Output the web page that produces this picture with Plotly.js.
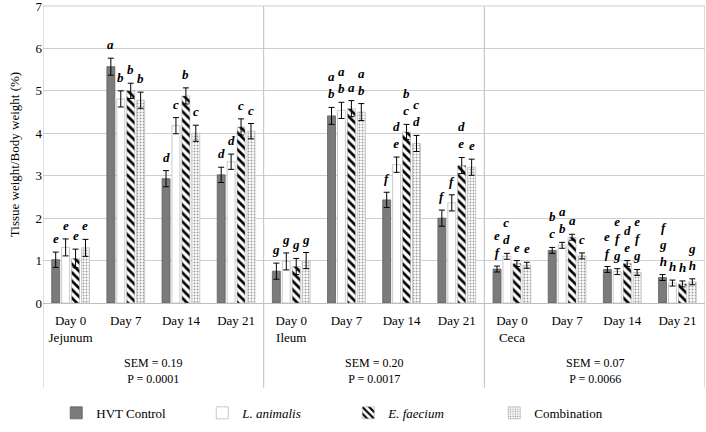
<!DOCTYPE html>
<html>
<head>
<meta charset="utf-8">
<script src="https://cdn.plot.ly/plotly-3.0.1.min.js"></script>
<style>html,body{margin:0;padding:0;background:#fff;}#chart{width:706px;height:432px;}</style>
</head>
<body>
<div id="chart"></div>
<script>
// ---- data ----
const days = ['Day 0', 'Day 7', 'Day 14', 'Day 21'];
const segments = ['Jejunum', 'Ileum', 'Ceca'];
const semValues = ['0.19', '0.20', '0.07'];
const pValues = ['0.0001', '0.0017', '0.0066'];
const seriesNames = ['HVT Control', '<i>L. animalis</i>', '<i>E. faecium</i>', 'Combination'];

const hvtControl = [1.02, 5.57, 2.93, 3.02, 0.75, 4.41, 2.43, 2.00, 0.80, 1.24, 0.79, 0.60];
const hvtControlErr = [0.18, 0.20, 0.19, 0.18, 0.19, 0.20, 0.18, 0.19, 0.07, 0.07, 0.07, 0.07];
const lAnimalis = [1.31, 4.81, 4.18, 3.33, 0.98, 4.54, 3.26, 2.36, 1.10, 1.36, 0.74, 0.47];
const lAnimalisErr = [0.20, 0.19, 0.19, 0.18, 0.20, 0.19, 0.18, 0.19, 0.07, 0.07, 0.07, 0.07];
const eFaecium = [1.05, 5.00, 4.88, 4.15, 0.86, 4.58, 4.03, 3.24, 0.93, 1.55, 0.93, 0.45];
const eFaeciumErr = [0.22, 0.18, 0.19, 0.19, 0.19, 0.19, 0.18, 0.19, 0.07, 0.07, 0.07, 0.07];
const combination = [1.30, 4.78, 4.00, 4.05, 1.00, 4.50, 3.76, 3.20, 0.89, 1.11, 0.72, 0.50];
const combinationErr = [0.20, 0.19, 0.19, 0.18, 0.19, 0.20, 0.19, 0.19, 0.07, 0.07, 0.07, 0.07];

const hvtLetters = ['e', 'a', 'd', 'd', 'g', 'a<br>b', 'f', 'f', 'e<br>f', 'b<br>c', 'e<br>f', 'f<br>g<br>h'];
const lanLetters = ['e', 'b', 'c', 'd', 'g', 'a<br>b', 'd<br>e', 'f', 'c<br>d', 'a<br>b', 'e<br>f<br>g', 'h'];
const efaLetters = ['e', 'b', 'b', 'c', 'g', 'a', 'b<br>c', 'd<br>e', 'e', 'a', 'd<br>e', 'h'];
const comLetters = ['e', 'b', 'c', 'c', 'g', 'a<br>b', 'c<br>d', 'e', 'e', 'c', 'e<br>f<br>g', 'g<br>h'];

// ---- build ----
const FONT = "'Liberation Serif', 'DejaVu Serif', serif";
const catKeys = [];
const tickText = [];
segments.forEach(function (seg) {
  days.forEach(function (d, j) {
    catKeys.push(seg + ' ' + d);
    tickText.push(j === 0 ? d + '<br>' + seg : d);
  });
});

const values = [hvtControl, lAnimalis, eFaecium, combination];
const errs = [hvtControlErr, lAnimalisErr, eFaeciumErr, combinationErr];
const letters = [hvtLetters, lanLetters, efaLetters, comLetters];
const markers = [
  {color: '#7b7b7b', line: {color: '#5e5e5e', width: 0.8}},
  {color: '#ffffff', line: {color: '#bdbdbd', width: 0.8}},
  {color: '#ffffff', line: {color: '#9a9a9a', width: 0.5},
   pattern: {shape: '\\', fgcolor: '#000000', bgcolor: '#ffffff', size: 6, solidity: 0.45}},
  {color: '#ffffff', line: {color: '#bdbdbd', width: 0.8},
   pattern: {shape: '.', fgcolor: '#9a9a9a', bgcolor: '#ffffff', size: 3, solidity: 0.3}}
];

const traces = values.map(function (v, i) {
  return {
    type: 'bar',
    name: seriesNames[i],
    x: catKeys,
    y: v,
    marker: markers[i],
    error_y: {type: 'data', array: errs[i], visible: true, color: '#000000', thickness: 1, width: 3},
    hoverinfo: 'x+y+name'
  };
});

const bargap = 0.28;
const slot = (1 - bargap) / values.length;
const annotations = [];
values.forEach(function (v, i) {
  v.forEach(function (val, c) {
    annotations.push({
      xref: 'x', yref: 'y',
      x: c + (i - (values.length - 1) / 2) * slot,
      y: val + errs[i][c],
      yanchor: 'bottom', xanchor: 'center',
      yshift: 4,
      showarrow: false,
      text: '<b><i>' + letters[i][c] + '</i></b>',
      font: {family: FONT, size: 13, color: '#000000'}
    });
  });
});
segments.forEach(function (seg, s) {
  annotations.push({
    xref: 'x', yref: 'paper',
    x: s * days.length + (days.length - 1) / 2,
    y: -0.228, yanchor: 'middle', showarrow: false,
    text: 'SEM = ' + semValues[s] + '<br>P = ' + pValues[s],
    font: {family: FONT, size: 12, color: '#000000'}
  });
});

const shapes = [];
for (let s = 0; s <= segments.length; s++) {
  shapes.push({
    type: 'line', xref: 'x', yref: 'paper',
    x0: s * days.length - 0.5, x1: s * days.length - 0.5,
    y0: 1, y1: -0.285,
    line: {color: '#bfbfbf', width: 1}
  });
}
shapes.push({
  type: 'line', xref: 'paper', yref: 'paper', x0: 0, x1: 1, y0: 1, y1: 1,
  line: {color: '#cfcfcf', width: 1}
});

const layout = {
  width: 706, height: 432,
  margin: {l: 43, r: 1, t: 6, b: 129},
  paper_bgcolor: '#ffffff', plot_bgcolor: '#ffffff',
  font: {family: FONT, size: 13, color: '#000000'},
  barmode: 'group',
  bargap: bargap,
  bargroupgap: 0.2,
  showlegend: true,
  legend: {
    orientation: 'h', x: 0.02, xanchor: 'left', y: -0.37, yanchor: 'middle',
    entrywidth: 101, entrywidthmode: 'pixels', itemwidth: 30,
    font: {family: FONT, size: 13, color: '#000000'}, traceorder: 'normal'
  },
  xaxis: {
    type: 'category',
    tickmode: 'array', tickvals: catKeys, ticktext: tickText,
    range: [-0.5, catKeys.length - 0.5],
    showgrid: false, zeroline: false, showline: false, ticks: '',
    ticklabelstandoff: 8,
    tickfont: {family: FONT, size: 13, color: '#000000'},
    fixedrange: true
  },
  yaxis: {
    range: [0, 7], dtick: 1, tick0: 0,
    showgrid: true, gridcolor: '#cfcfcf', gridwidth: 1,
    zeroline: true, zerolinecolor: '#bfbfbf', zerolinewidth: 1,
    showline: false, ticks: '',
    ticklabeloverflow: 'allow',
    tickfont: {family: FONT, size: 13, color: '#000000'},
    title: {text: 'Tissue weight/Body weight (%)', font: {family: FONT, size: 13, color: '#000000'}, standoff: 12},
    fixedrange: true
  },
  annotations: annotations,
  shapes: shapes
};

Plotly.newPlot('chart', traces, layout, {displayModeBar: false, staticPlot: true});
</script>
</body>
</html>
